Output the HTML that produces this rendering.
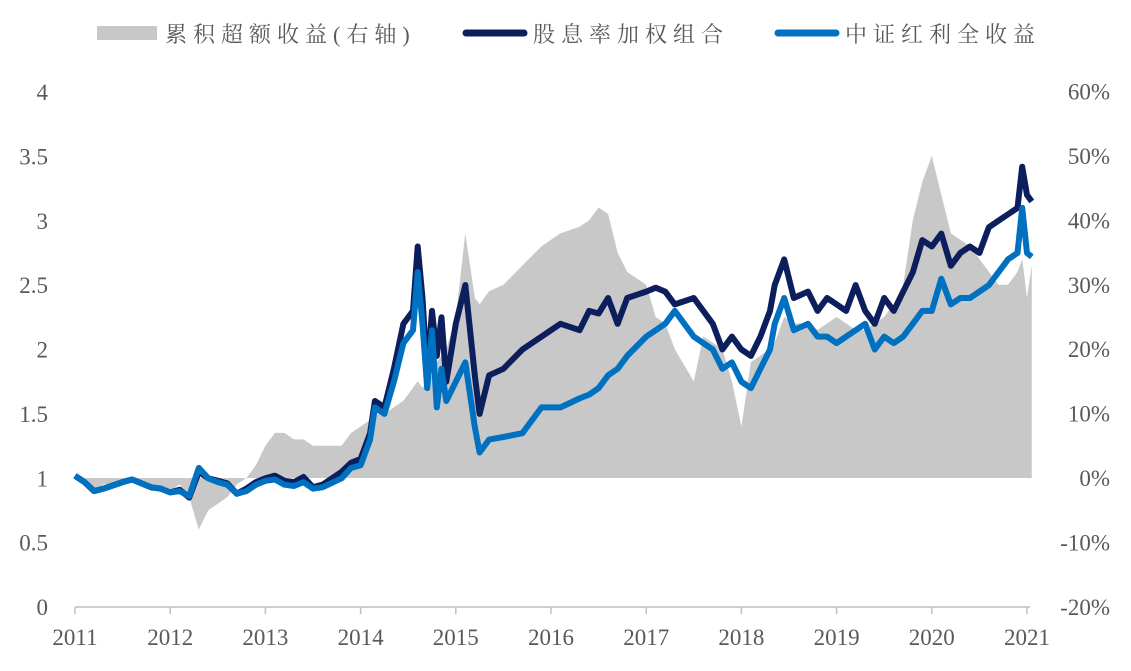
<!DOCTYPE html>
<html><head><meta charset="utf-8"><style>
body{margin:0;background:#fff;}
svg text{font-family:"Liberation Serif","Noto Serif CJK SC",serif;}
.lg{font-family:"Liberation Serif","Noto Serif CJK SC",serif;letter-spacing:6px;}
</style></head><body>
<svg id="chart" width="1131" height="666" xmlns="http://www.w3.org/2000/svg">
<g id="legend">
 <g><rect x="97" y="26" width="60" height="14" fill="#c8c8c8"/><text class="lg" x="165" y="42" font-size="22" fill="#595959">累积超额收益(右轴)</text></g>
 <g><line x1="466" y1="33" x2="524" y2="33" stroke="#0c1f5c" stroke-width="7" stroke-linecap="round"/><text class="lg" x="533" y="42" font-size="22" fill="#595959">股息率加权组合</text></g>
 <g><line x1="778" y1="33" x2="836" y2="33" stroke="#0070c0" stroke-width="7" stroke-linecap="round"/><text class="lg" x="845" y="42" font-size="22" fill="#595959">中证红利全收益</text></g>
</g>
<g id="area"></g><g id="lines"></g><g id="axes"></g>
</svg>
<script>
const dates=[2011.0,2011.1,2011.2,2011.3,2011.5,2011.6,2011.8,2011.9,2012.0,2012.1,2012.2,2012.3,2012.4,2012.5,2012.6,2012.7,2012.8,2012.9,2013.0,2013.1,2013.2,2013.3,2013.4,2013.5,2013.6,2013.8,2013.9,2014.0,2014.1,2014.15,2014.25,2014.35,2014.45,2014.55,2014.6,2014.65,2014.7,2014.75,2014.8,2014.85,2014.9,2015.0,2015.1,2015.2,2015.25,2015.35,2015.5,2015.7,2015.9,2016.1,2016.3,2016.4,2016.5,2016.6,2016.7,2016.8,2017.0,2017.1,2017.2,2017.3,2017.5,2017.6,2017.7,2017.8,2017.9,2018.0,2018.1,2018.2,2018.3,2018.35,2018.45,2018.55,2018.7,2018.8,2018.9,2019.0,2019.1,2019.2,2019.3,2019.4,2019.5,2019.6,2019.7,2019.8,2019.9,2020.0,2020.1,2020.2,2020.3,2020.4,2020.5,2020.6,2020.7,2020.8,2020.9,2020.95,2021.0,2021.05];
const portfolio=[1.02,0.97,0.9,0.92,0.97,0.99,0.93,0.92,0.89,0.91,0.85,1.05,1.0,0.98,0.96,0.88,0.92,0.97,1.0,1.02,0.98,0.97,1.01,0.93,0.95,1.05,1.12,1.15,1.35,1.6,1.55,1.85,2.2,2.3,2.8,2.4,1.8,2.3,1.95,2.25,1.75,2.2,2.5,1.8,1.5,1.8,1.85,2.0,2.1,2.2,2.15,2.3,2.28,2.4,2.2,2.4,2.45,2.48,2.45,2.35,2.4,2.3,2.2,2.0,2.1,2.0,1.95,2.1,2.3,2.5,2.7,2.4,2.45,2.3,2.4,2.35,2.3,2.5,2.3,2.2,2.4,2.3,2.45,2.6,2.85,2.8,2.9,2.65,2.75,2.8,2.75,2.95,3.0,3.05,3.1,3.42,3.2,3.15];
const indexVals=[1.02,0.97,0.9,0.92,0.97,0.99,0.93,0.92,0.89,0.9,0.86,1.08,1.0,0.97,0.95,0.88,0.9,0.95,0.98,0.99,0.95,0.94,0.97,0.92,0.93,1.0,1.08,1.1,1.3,1.55,1.5,1.75,2.05,2.15,2.6,2.2,1.7,2.15,1.55,1.85,1.6,1.75,1.9,1.4,1.2,1.3,1.32,1.35,1.55,1.55,1.62,1.65,1.7,1.8,1.85,1.95,2.1,2.15,2.2,2.3,2.1,2.05,2.0,1.85,1.9,1.75,1.7,1.85,2.0,2.2,2.4,2.15,2.2,2.1,2.1,2.05,2.1,2.15,2.2,2.0,2.1,2.05,2.1,2.2,2.3,2.3,2.55,2.35,2.4,2.4,2.45,2.5,2.6,2.7,2.75,3.1,2.75,2.72];
const excess=[0,-1,-2,-1,-1,0,-2,-2,-2,-1,-3,-8,-5,-4,-3,-1,0,2,5,7,7,6,6,5,5,5,7,8,9,10,10,11,12,14,15,14,15,16,18,19,20,25,38,28,27,29,30,33,36,38,39,40,42,41,35,32,30,25,24,20,15,22,21,20,15,8,18,19,20,21,25,24,24,23,24,25,24,23,23,24,25,27,30,40,46,50,44,38,37,36,34,32,30,30,32,34,28,33];
const yTicks=["0","0.5","1","1.5","2","2.5","3","3.5","4"];
const rTicks=["-20%","-10%","0%","10%","20%","30%","40%","50%","60%"];
const xTicks=["2011","2012","2013","2014","2015","2016","2017","2018","2019","2020","2021"];
const NS="http://www.w3.org/2000/svg";
const X=d=>75+(d-2011)*95.2;
const Y=v=>607-v*128.75;
const R=p=>478-p*6.44;
function mk(tag,attrs,parent){const e=document.createElementNS(NS,tag);for(const k in attrs)e.setAttribute(k,attrs[k]);parent.appendChild(e);return e;}
const area=document.getElementById('area'),lines=document.getElementById('lines'),axes=document.getElementById('axes');
let ad="M"+X(dates[0])+","+R(0);
dates.forEach((d,i)=>{ad+=" L"+X(d).toFixed(1)+","+R(excess[i]).toFixed(1);});
ad+=" L"+X(dates[dates.length-1])+","+R(0)+" Z";
const a=mk('path',{d:ad,fill:'#c8c8c8'},area);


function line(vals,color,name){const d=vals.map((v,i)=>(i?"L":"M")+X(dates[i]).toFixed(1)+","+Y(v).toFixed(1)).join(" ");
const p=mk('path',{d:d,fill:'none',stroke:color,'stroke-width':6,'stroke-linejoin':'round'},lines);

}
line(portfolio,'#0c1f5c','portfolio-line');
line(indexVals,'#0070c0','index-line');
const xl=mk('line',{x1:75,y1:607,x2:1030,y2:607,stroke:'#bfbfbf','stroke-width':1.5},axes);


yTicks.forEach((t,i)=>{const e=mk('text',{x:48,y:Y(i*0.5)+8,'font-size':23,fill:'#595959','text-anchor':'end'},axes);e.textContent=t;

});
rTicks.forEach((t,i)=>{const e=mk('text',{x:1110,y:R(-20+i*10)+8,'font-size':23,fill:'#595959','text-anchor':'end'},axes);e.textContent=t;

});
xTicks.forEach((t,i)=>{const x=X(2011+i);mk('line',{x1:x,y1:607,x2:x,y2:614,stroke:'#bfbfbf','stroke-width':1.5},axes);
const e=mk('text',{x:x,y:645,'font-size':23,fill:'#595959','text-anchor':'middle'},axes);e.textContent=t;

});
</script>
</body></html>
